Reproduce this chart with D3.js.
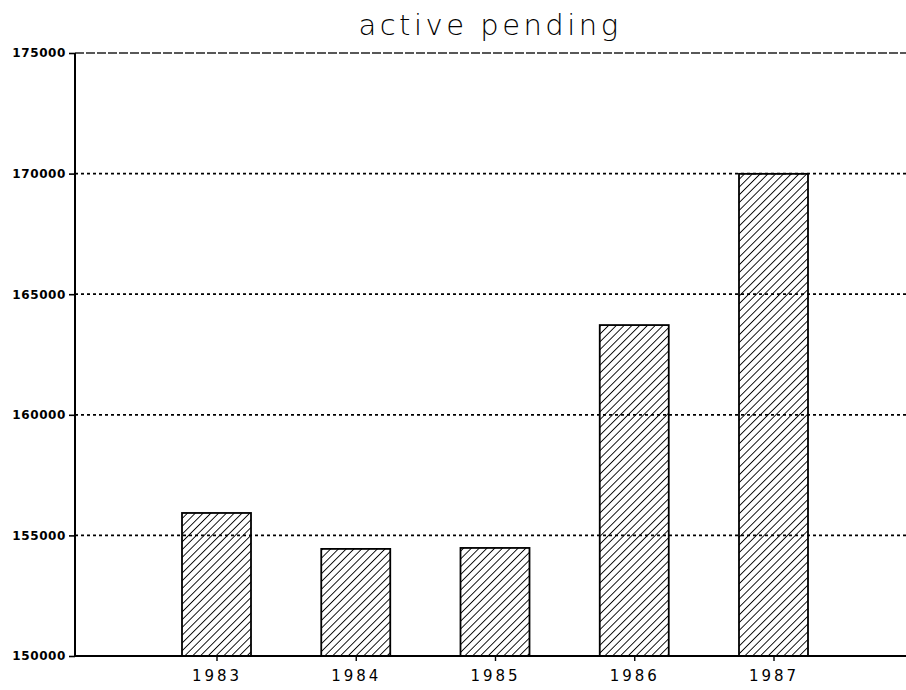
<html>
<head>
<meta charset="utf-8">
<title>active pending</title>
<script src="https://d3js.org/d3.v7.min.js"></script>
<style>
  body { margin: 0; background: #fff; }
</style>
</head>
<body>
<div id="mychart"></div>
<script>
var years = ["1983", "1984", "1985", "1986", "1987"];
var pending = [155930, 154440, 154480, 163720, 169990];
var yTicks = [150000, 155000, 160000, 165000, 170000, 175000];

var width = 906, height = 690;
var plotLeft = 75, plotRight = 906, plotTop = 53, plotBottom = 656;

var svg = d3.select("#mychart").append("svg")
    .attr("width", width)
    .attr("height", height);

var defs = svg.append("defs");
var pat = defs.append("pattern")
    .attr("id", "hatch")
    .attr("patternUnits", "userSpaceOnUse")
    .attr("width", 5.5)
    .attr("height", 5.5)
    .attr("patternTransform", "rotate(45)");
pat.append("line")
    .attr("x1", 0).attr("y1", 0)
    .attr("x2", 0).attr("y2", 5.5)
    .attr("stroke", "#000")
    .attr("stroke-width", 1.8);

var x = d3.scalePoint()
    .domain(years)
    .range([216.5, 773.5]);

var y = d3.scaleLinear()
    .domain([150000, 175000])
    .range([plotBottom, plotTop]);

// grid lines
svg.selectAll(".grid")
    .data(yTicks.filter(function(d) { return d > 150000; }))
    .enter()
    .append("line")
    .attr("x1", plotLeft).attr("x2", plotRight)
    .attr("y1", function(d) { return y(d); })
    .attr("y2", function(d) { return y(d); })
    .attr("stroke", function(d) { return d == 175000 ? "#222" : "#000"; })
    .attr("stroke-width", function(d) { return d == 175000 ? 1.4 : 1.8; })
    .attr("stroke-dasharray", function(d) { return d == 175000 ? "9,2" : "3,3"; });

// bars
var bw = 69;
svg.selectAll(".bar")
    .data(pending)
    .enter()
    .append("rect")
    .attr("x", function(d, i) { return x(years[i]) - bw / 2; })
    .attr("y", function(d) { return y(d); })
    .attr("width", bw)
    .attr("height", function(d) { return y(150000) - y(d); })
    .attr("fill", "url(#hatch)")
    .attr("stroke", "#000")
    .attr("stroke-width", 1.8);

// y axis
var yAxis = d3.axisLeft(y)
    .tickValues(yTicks)
    .tickSize(6)
    .tickPadding(3)
    .tickFormat(d3.format("d"));

svg.append("g")
    .attr("transform", "translate(" + plotLeft + ",0)")
    .call(yAxis)
    .call(function(g) {
        g.select(".domain").attr("stroke-width", 2).attr("d", "M0," + plotTop + "V" + plotBottom);
        g.selectAll(".tick line").attr("stroke-width", 1.6);
        g.selectAll("text")
            .style("font-family", "DejaVu Sans")
            .style("font-size", "12px")
            .style("font-weight", "bold")
            .style("letter-spacing", "0.6px");
    });

// x axis
var xAxis = d3.axisBottom(x)
    .tickSize(5)
    .tickPadding(9);

svg.append("g")
    .attr("transform", "translate(0," + plotBottom + ")")
    .call(xAxis)
    .call(function(g) {
        g.select(".domain").attr("stroke-width", 2).attr("d", "M" + plotLeft + ",0H" + plotRight);
        g.selectAll(".tick line").attr("stroke-width", 1.4);
        g.selectAll("text")
            .style("font-family", "DejaVu Sans")
            .style("font-size", "15px")
            .style("letter-spacing", "3px");
    });

// title
svg.append("text")
    .attr("x", 490)
    .attr("y", 35)
    .attr("text-anchor", "middle")
    .style("font-family", "DejaVu Sans")
    .style("font-weight", "200")
    .style("font-size", "29px")
    .style("letter-spacing", "3.5px")
    .text("active pending");
</script>
</body>
</html>
